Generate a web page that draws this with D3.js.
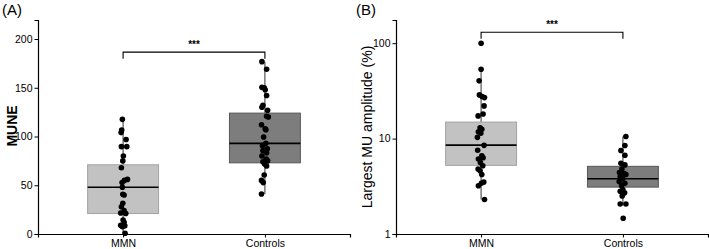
<!DOCTYPE html>
<html>
<head>
<meta charset="utf-8">
<script src="https://cdn.jsdelivr.net/npm/d3@7"></script>
<style>
  body { margin: 0; background: #fff; }
  svg { display: block; font-family: "Liberation Sans", Arial, sans-serif; }
</style>
</head>
<body>
<svg id="chart" width="709" height="249"></svg>
<script>
// categories
const groups = ['MMN', 'Controls'];

// (A) MUNE values
const muneMmn = [117.6, 106.7, 104, 97, 89.6, 89.6, 80, 75, 68, 56, 55, 52.7, 47.9, 40.7, 40,
  31.5, 28, 24, 21.5, 21, 14.4, 12, 9, 7.5, 8.5, 0.7];
const muneMmnJitter = [-0.005, -0.01, -0.014, 0.021, -0.012, 0.026, 0.002, -0.002, -0.012, 0.031,
  0.009, -0.007, -0.005, -0.002, 0.007, -0.002, -0.012, 0.007, -0.017, 0.019, 0, 0.007, -0.017,
  -0.005, 0.012, 0.014];
const muneCtrl = [176.8, 169, 150.4, 150, 148, 142, 132, 130, 127, 120.7, 120, 112, 108, 107, 99.5,
  93, 90.6, 87.5, 85.5, 83.4, 80, 77, 75, 74, 71.8, 69.7, 60.5, 55, 52.7, 41];
const muneCtrlJitter = [-0.021, 0.012, -0.021, -0.005, 0.002, 0.012, -0.014, -0.021, 0.019, 0.012,
  0.024, -0.024, 0.002, 0.007, -0.009, 0.007, -0.017, 0.017, -0.014, 0.012, -0.021, 0.009, 0.019,
  -0.014, -0.002, 0.012, -0.005, -0.024, -0.012, -0.024];
// box: [whisker low, q1, median, q3, whisker high]
const muneMmnBox = [0.7, 21, 48, 71, 117.6];
const muneCtrlBox = [41, 73, 93, 124, 176.8];
const muneTicks = [0, 50, 100, 150, 200];

// (B) Largest MU amplitude (%)
const ampMmn = [100, 53.4, 40.3, 28.7, 27.6, 26.9, 22, 18.1, 17.3, 13.0, 12.5, 11.8, 11.4, 10.3,
  8.5, 7.55, 6.6, 6.3, 6.1, 5.6, 5.2, 4.8, 4.6, 4.2, 3.5, 3.4, 3.2, 2.3];
const ampMmnJitter = [0, 0, -0.014, -0.012, 0.007, 0.024, 0.021, 0.014, -0.021, -0.007, 0.005,
  -0.019, -0.002, -0.026, 0.021, -0.024, 0.005, 0.014, -0.019, -0.005, 0.012, -0.021, -0.007,
  0.005, 0.019, 0.002, -0.019, 0.024];
const ampCtrl = [10.5, 8.45, 7.5, 6.7, 5.5, 5.3, 4.8, 4.4, 4.3, 4.2, 4.0, 3.8, 3.55, 3.4, 3.2,
  2.9, 2.8, 2.7, 2.5, 2.06, 2.06, 1.46];
const ampCtrlJitter = [0.021, 0.014, -0.014, 0.014, -0.014, 0.014, -0.007, -0.024, 0.009, 0.021,
  -0.019, -0.002, -0.026, 0.014, -0.009, 0, -0.019, 0.012, -0.005, -0.019, 0.021, 0.002];
const ampMmnBox = [2.3, 5.24, 8.55, 14.9, 53.4];
const ampCtrlBox = [2.06, 3.1, 3.8, 5.12, 10.5];
const ampTicks = [1, 10, 100];

const svg = d3.select('#chart');

function drawPanel(opts) {
  const g = svg.append('g');

  // x: categories sit at 1 and 2, like ggplot's discrete axis
  const x = d3.scaleLinear().domain([0.4, 2.6]).range([opts.left, opts.right]);
  const y = opts.yScale;
  const bottom = y.range()[0];

  const series = [
    { box: opts.boxes[0], vals: opts.values[0], jit: opts.jitter[0], fill: '#c2c2c2', stroke: '#a3a3a3' },
    { box: opts.boxes[1], vals: opts.values[1], jit: opts.jitter[1], fill: '#7d7d7d', stroke: '#575757' }
  ];

  series.forEach((s, i) => {
    const cx = x(i + 1);
    const b = s.box;
    // whisker
    g.append('line')
      .attr('x1', cx).attr('x2', cx)
      .attr('y1', y(b[0])).attr('y2', y(b[4]))
      .attr('stroke', '#333').attr('stroke-width', 1);
    // box
    g.append('rect')
      .attr('x', x(i + 1 - 0.25))
      .attr('width', x(i + 1.25) - x(i + 0.75))
      .attr('y', y(b[3]))
      .attr('height', y(b[1]) - y(b[3]))
      .attr('fill', s.fill)
      .attr('stroke', s.stroke)
      .attr('stroke-width', 1);
    // median
    g.append('line')
      .attr('x1', x(i + 0.75)).attr('x2', x(i + 1.25))
      .attr('y1', y(b[2])).attr('y2', y(b[2]))
      .attr('stroke', '#000').attr('stroke-width', 1.6);
    // points
    g.selectAll(null)
      .data(s.vals)
      .enter()
      .append('circle')
      .attr('cx', (d, k) => x(i + 1 + s.jit[k]))
      .attr('cy', d => y(d))
      .attr('r', 2.8)
      .attr('fill', '#000');
  });

  // significance bracket
  const by = y(opts.bracket);
  g.append('path')
    .attr('d', `M${x(1)},${by + 6.5}V${by}H${x(2)}V${by + 6.5}`)
    .attr('fill', 'none')
    .attr('stroke', '#000')
    .attr('stroke-width', 1.1);
  g.append('text')
    .attr('x', (x(1) + x(2)) / 2)
    .attr('y', by - 4)
    .attr('text-anchor', 'middle')
    .style('font-size', '10px')
    .style('font-weight', 'bold')
    .text('***');

  // axes
  const yAxis = g.append('g')
    .attr('transform', `translate(${opts.left},0)`)
    .call(d3.axisLeft(y).tickValues(opts.ticks).tickSize(3.5).tickPadding(2).tickFormat(d3.format('d')));
  const xAxis = g.append('g')
    .attr('transform', `translate(0,${bottom})`)
    .call(d3.axisBottom(x).tickValues([1, 2]).tickSize(3.5).tickPadding(2).tickFormat(d => groups[d - 1]));

  [yAxis, xAxis].forEach(ax => {
    ax.select('.domain').attr('stroke', '#000').attr('stroke-width', 1.2);
    ax.selectAll('.tick line').attr('stroke', '#000').attr('stroke-width', 1);
    ax.selectAll('text')
      .attr('fill', '#000')
      .style('font-size', '10.5px')
      .style('font-family', '"Liberation Sans", Arial, sans-serif');
  });

  // axis title
  g.append('text')
    .attr('transform', `translate(${opts.titleX},${opts.titleY}) rotate(-90)`)
    .attr('text-anchor', 'middle')
    .style('font-size', opts.titleSize)
    .style('font-weight', opts.titleWeight)
    .text(opts.title);

  // panel tag
  g.append('text')
    .attr('x', opts.tagX)
    .attr('y', 15)
    .style('font-size', '15px')
    .text(opts.tag);
}

drawPanel({
  left: 38, right: 350,
  yScale: d3.scaleLinear().domain([0, 219.5]).range([234, 20]),
  values: [muneMmn, muneCtrl],
  jitter: [muneMmnJitter, muneCtrlJitter],
  boxes: [muneMmnBox, muneCtrlBox],
  ticks: muneTicks,
  bracket: 186.5,
  title: 'MUNE', titleX: 17, titleY: 126, titleSize: '14px', titleWeight: 'bold',
  tag: '(A)', tagX: 2
});

drawPanel({
  left: 396, right: 708,
  yScale: d3.scaleLog().domain([1, 175]).range([234, 20]),
  values: [ampMmn, ampCtrl],
  jitter: [ampMmnJitter, ampCtrlJitter],
  boxes: [ampMmnBox, ampCtrlBox],
  ticks: ampTicks,
  bracket: 130,
  title: 'Largest MU amplitude (%)', titleX: 372, titleY: 127, titleSize: '14px', titleWeight: 'normal',
  tag: '(B)', tagX: 356
});
</script>
</body>
</html>
